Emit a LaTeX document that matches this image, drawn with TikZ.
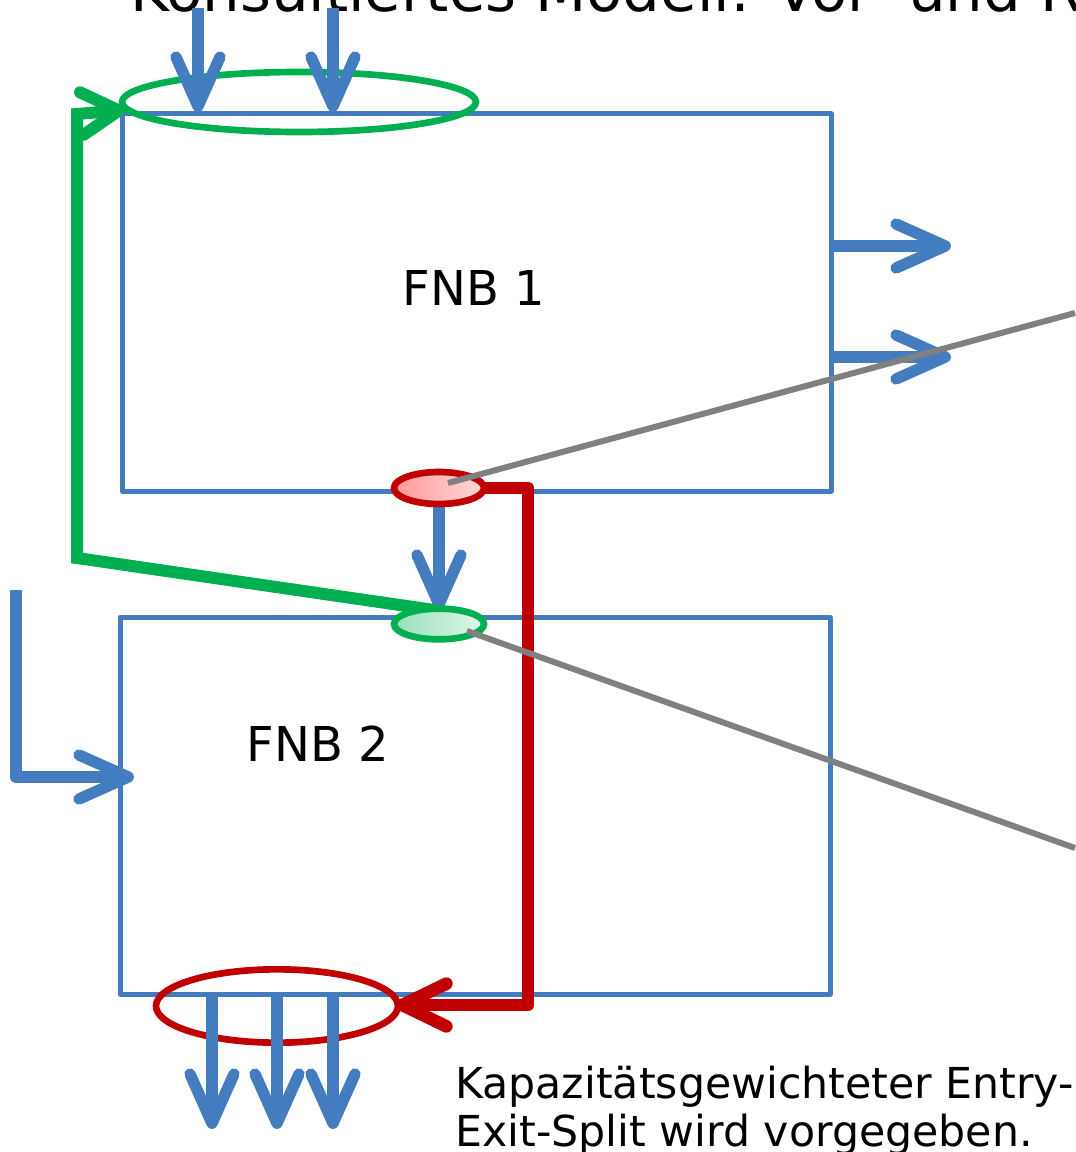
\documentclass[tikz,border=0pt]{standalone}
\usepackage{fontspec}
\setmainfont{DejaVu Sans}
\usetikzlibrary{arrows.meta,shapes.geometric}
\definecolor{fblue}{RGB}{68,125,191}
\definecolor{fgreen}{RGB}{0,176,80}
\definecolor{fred}{RGB}{192,0,0}
\definecolor{fgray}{RGB}{128,128,128}
\begin{document}
\begin{tikzpicture}[x=0.75pt,y=-0.75pt,
  boxst/.style={draw=fblue,line width=3.75pt,line join=round,inner sep=0pt,
    minimum width=#1},
  barb/.style={-{Straight Barb[round,length=37pt,width=33pt]}},
  shortbarb/.style={-{Straight Barb[round,length=28pt,width=32pt]}},
  bluearrow/.style={draw=fblue,line width=8.5pt,line join=round,barb},
  greenline/.style={draw=fgreen,line width=9pt,line join=miter,shortbarb},
  redline/.style={draw=fred,line width=9.5pt,line join=round,
    -{Straight Barb[round,length=33pt,width=32pt]}},
  grayline/.style={draw=fgray,line width=4.5pt},
  ring/.style={ellipse,line width=5pt,inner sep=0pt},
  lbl/.style={inner sep=0pt,font=\fontsize{36}{43}\selectfont},
  note/.style={inner sep=0pt,anchor=base west,font=\fontsize{32}{36}\selectfont},
]
\useasboundingbox (0,0) rectangle (1075,1152);

% title (cut off at the top)
\node[inner sep=0pt,anchor=base west,font=\fontsize{44.5}{50}\selectfont] (title) at (130,12) {Konsultiertes Modell: Vor- und R};

% boxes
\node[boxst=531.75pt,minimum height=282.75pt] (b1) at (476.5,302.5) {};
\node[boxst=532.5pt,minimum height=282.75pt] (b2) at (475,805.5) {};
\node[lbl] (l1) at (474,288) {FNB 1};
\node[lbl] (l2) at (318,744) {FNB 2};

% ellipses
\node[ring,draw=fgreen,minimum width=265.5pt,minimum height=45pt] (gTop) at (299,102) {};
\node[ring,draw=fred,minimum width=181.5pt,minimum height=55pt] (rBig) at (277,1006) {};

% coordinates for free ends
\coordinate (t1s) at (198,8);   \coordinate (t1e) at (198,112);
\coordinate (t2s) at (333,8);   \coordinate (t2e) at (333,112);
\coordinate (r1s) at (831,246); \coordinate (r1e) at (951,246);
\coordinate (r2s) at (831,357); \coordinate (r2e) at (951,357);
\coordinate (ls) at (16,590);   \coordinate (lc) at (16,777); \coordinate (le) at (134,777);
\coordinate (d1s) at (212,996); \coordinate (d1e) at (212,1129);
\coordinate (d2s) at (277,996); \coordinate (d2e) at (277,1129);
\coordinate (d3s) at (333,996); \coordinate (d3e) at (333,1129);
\coordinate (g1) at (77,558); \coordinate (g2) at (77,114); \coordinate (gt) at (125,110);
\coordinate (rc1) at (528,488); \coordinate (rc2) at (528,1005);
\coordinate (gr1s) at (448,483); \coordinate (gr1e) at (1075,313);
\coordinate (gr2s) at (467,631); \coordinate (gr2e) at (1075,848);
\coordinate (rSe) at (484,488); \coordinate (rSs) at (439,504);
\coordinate (gSn) at (439,610); \coordinate (gSnw) at (434,610);
\coordinate (rBe) at (396,1005);

% blue flows
\draw[bluearrow] (t1s) -- (t1e);
\draw[bluearrow] (t2s) -- (t2e);
\draw[bluearrow] (r1s) -- (r1e);
\draw[bluearrow] (r2s) -- (r2e);
\draw[bluearrow] (ls) -- (lc) -- (le);
\draw[bluearrow] (d1s) -- (d1e);
\draw[bluearrow] (d2s) -- (d2e);
\draw[bluearrow] (d3s) -- (d3e);
\draw[bluearrow] (rSs) -- (gSn);

% green connector
\draw[greenline] (gSnw) -- (g1) -- (g2) -- (gt);
% red connector
\draw[redline] (rSe) -- (rc1) -- (rc2) -- (rBe);

% small ellipses on top
\node[ring,draw=fred,left color=red!40,right color=red!15,minimum width=67.5pt,minimum height=24pt] (rS) at (439,488) {};
\node[ring,draw=fgreen,left color=fgreen!40,right color=fgreen!12,minimum width=67.5pt,minimum height=23pt] (gS) at (439,624) {};

% gray pointers
\draw[grayline] (gr1s) -- (gr1e);
\draw[grayline] (gr2s) -- (gr2e);

% note text
\node[note] (n1) at (455,1098) {Kapazitätsgewichteter Entry-};
\node[note] (n2) at (455,1146) {Exit-Split wird vorgegeben.};
\end{tikzpicture}
\end{document}
